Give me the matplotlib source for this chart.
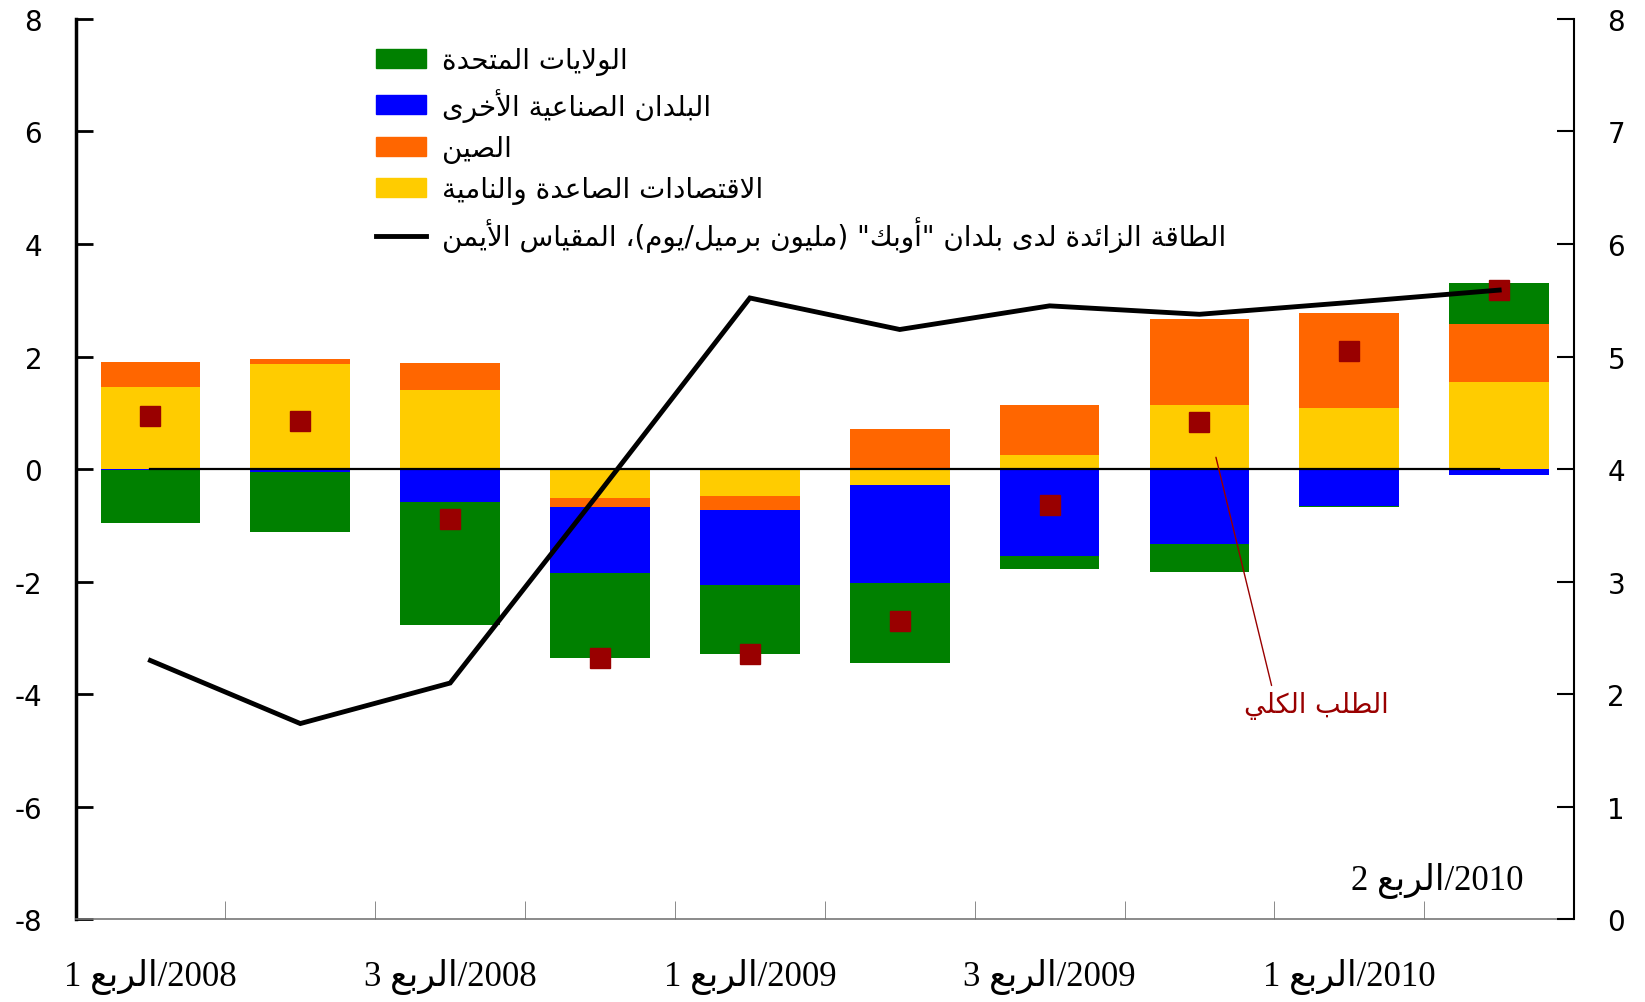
import re
import numpy as np
import matplotlib
matplotlib.use('Agg')
import matplotlib.pyplot as plt
from matplotlib.patches import Patch
from matplotlib.lines import Line2D

# ---- data ----
quarters = ['2008/الربع 1', '2008/الربع 2', '2008/الربع 3', '2008/الربع 4',
            '2009/الربع 1', '2009/الربع 2', '2009/الربع 3', '2009/الربع 4',
            '2010/الربع 1', '2010/الربع 2']
emerging = [1.46, 1.86, 1.41, -0.51, -0.485, -0.28, 0.25, 1.14, 1.085, 1.55]
china = [0.45, 0.10, 0.47, -0.16, -0.25, 0.72, 0.88, 1.53, 1.685, 1.02]
other_ind = [-0.02, -0.05, -0.58, -1.17, -1.32, -1.74, -1.54, -1.33, -0.655, -0.11]
usa = [-0.94, -1.07, -2.19, -1.51, -1.23, -1.42, -0.235, -0.505, -0.025, 0.73]
total_demand = [0.94, 0.85, -0.89, -3.36, -3.29, -2.70, -0.64, 0.84, 2.09, 3.19]
opec_spare = [2.30, 1.74, 2.10, 3.80, 5.52, 5.24, 5.45, 5.375, 5.48, 5.59]

names = ['الولايات المتحدة', 'البلدان الصناعية الأخرى', 'الصين',
         'الاقتصادات الصاعدة والنامية']
line_name = 'الطاقة الزائدة لدى بلدان "أوبك" (مليون برميل/يوم)، المقياس الأيمن'
total_name = 'الطلب الكلي'
last_label = '2010/الربع 2'

# ---- minimal Arabic shaping + right-to-left ordering ----
FORMS = {}


def _add(start, first, nf, count):
    for i in range(count):
        FORMS[chr(start + i)] = [chr(first + i * nf + k) for k in range(nf)]


_add(0x0621, 0xFE80, 1, 1)
_add(0x0622, 0xFE81, 2, 4)
_add(0x0626, 0xFE89, 4, 1)
_add(0x0627, 0xFE8D, 2, 1)
_add(0x0628, 0xFE8F, 4, 1)
_add(0x0629, 0xFE93, 2, 1)
_add(0x062A, 0xFE95, 4, 5)
_add(0x062F, 0xFEA9, 2, 4)
_add(0x0633, 0xFEB1, 4, 8)
_add(0x0641, 0xFED1, 4, 7)
_add(0x0648, 0xFEED, 2, 2)
_add(0x064A, 0xFEF1, 4, 1)
LAM_ALEF = {'\u0622': (0xFEF5, 0xFEF6), '\u0623': (0xFEF7, 0xFEF8),
            '\u0625': (0xFEF9, 0xFEFA), '\u0627': (0xFEFB, 0xFEFC)}


def shape(s):
    out = []
    prev_join = False
    i = 0
    while i < len(s):
        c = s[i]
        if c not in FORMS:
            out.append(c)
            prev_join = False
            i += 1
            continue
        nxt = s[i + 1] if i + 1 < len(s) else ''
        if c == '\u0644' and nxt in LAM_ALEF:
            iso, fin = LAM_ALEF[nxt]
            out.append(chr(fin if prev_join else iso))
            prev_join = False
            i += 2
            continue
        f = FORMS[c]
        next_join = len(f) == 4 and nxt in FORMS and nxt != '\u0621'
        if len(f) == 1:
            out.append(f[0])
        elif prev_join and next_join:
            out.append(f[3])
        elif next_join:
            out.append(f[2])
        elif prev_join:
            out.append(f[1])
        else:
            out.append(f[0])
        prev_join = next_join
        i += 1
    return ''.join(out)


def ar(s):
    v = shape(s)[::-1].translate({ord('('): ')', ord(')'): '('})
    return re.sub(r'[0-9A-Za-z.]+', lambda m: m.group(0)[::-1], v)


# ---- figure ----
SANS = ['DejaVu Sans']
SERIF = ['Liberation Serif', 'DejaVu Sans']

fig = plt.figure(figsize=(16.45, 10.03), dpi=100)
ax = fig.add_axes([0.0459, 0.0823, 0.911, 0.898])

x = np.arange(len(quarters))
cols = ['#FFCC00', '#FF6600', '#0000FF', '#008000']
series = [emerging, china, other_ind, usa]
pos_bottom = np.zeros(len(x))
neg_bottom = np.zeros(len(x))
for vals, c in zip(series, cols):
    v = np.array(vals)
    bottom = np.where(v >= 0, pos_bottom, neg_bottom)
    ax.bar(x, v, bottom=bottom, width=0.665, color=c, linewidth=0, zorder=2)
    pos_bottom += np.where(v >= 0, v, 0)
    neg_bottom += np.where(v < 0, v, 0)

ax.plot(x, np.zeros(len(x)), color='black', lw=1.6, zorder=3)
ax.plot(x, total_demand, 's', color='#990000', ms=15, zorder=4)

ax.set_xlim(-0.5, len(x) - 0.5)
ax.set_ylim(-8, 8)
ax.set_yticks(np.arange(-8, 9, 2))
ax.set_yticklabels([str(v) for v in range(-8, 9, 2)], family=SANS, fontsize=20)
ax.set_xticks(x[::2])
ax.set_xticklabels([ar(q) for q in quarters[::2]], family=SERIF, fontsize=25)
ax.set_xticks(np.arange(0.5, len(x) - 1, 1), minor=True)
ax.tick_params(axis='x', which='major', length=0, pad=28)
ax.tick_params(axis='x', which='minor', direction='in', length=13, color='#777777')
ax.tick_params(axis='y', direction='in', length=12, width=2, pad=24)
ax.spines['top'].set_visible(False)
ax.spines['right'].set_visible(False)
ax.spines['left'].set_linewidth(2.5)
ax.spines['bottom'].set_color('#777777')
ax.spines['bottom'].set_linewidth(1.2)

ax2 = ax.twinx()
ax2.plot(x, opec_spare, color='black', lw=3.5, solid_joinstyle='miter', zorder=5)
ax2.set_ylim(0, 8)
ax2.set_yticks(np.arange(0, 9, 1))
ax2.set_yticklabels([str(v) for v in range(0, 9)], family=SANS, fontsize=20)
ax2.tick_params(axis='y', direction='in', length=12, width=1.5, pad=24)
ax2.spines['top'].set_visible(False)
ax2.spines['left'].set_visible(False)
ax2.spines['bottom'].set_visible(False)
ax2.spines['right'].set_linewidth(1.5)

handles = [Patch(color='#008000'), Patch(color='#0000FF'), Patch(color='#FF6600'),
           Patch(color='#FFCC00'), Line2D([], [], color='black', lw=3.5)]
labels = [ar(n) for n in names] + [ar(line_name)]
ax2.legend(handles, labels, loc='upper left', bbox_to_anchor=(0.184, 0.997),
           frameon=False, prop={'family': SANS, 'size': 20},
           handlelength=1.8, handleheight=0.68, labelspacing=0.44, handletextpad=0.55)

ax.text(8.59, -7.3, ar(last_label), family=SERIF, fontsize=25,
        ha='center', va='center')
ax.annotate(ar(total_name), xy=(7.11, 0.21), xytext=(7.78, -4.19),
            color='#990000', family=SANS, fontsize=19.5, ha='center', va='center',
            arrowprops=dict(arrowstyle='-', color='#990000', lw=1,
                            shrinkA=2, shrinkB=0, relpos=(0.2, 1.0)))

fig.savefig('out.png', dpi=100)
